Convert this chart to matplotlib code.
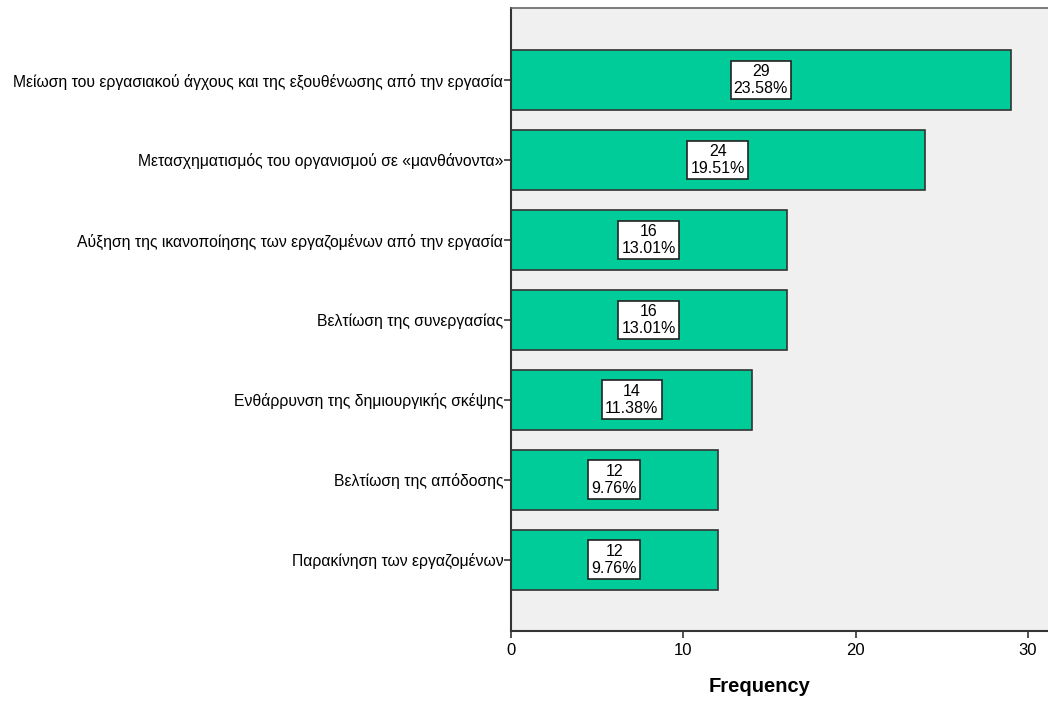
import matplotlib
matplotlib.use("Agg")
import matplotlib.pyplot as plt

plt.rcParams['font.family'] = ['Liberation Sans', 'DejaVu Sans']

categories = [
    "Μείωση του εργασιακού άγχους και της εξουθένωσης από την εργασία",
    "Μετασχηματισμός του οργανισμού σε «μανθάνοντα»",
    "Αύξηση της ικανοποίησης των εργαζομένων από την εργασία",
    "Βελτίωση της συνεργασίας",
    "Ενθάρρυνση της δημιουργικής σκέψης",
    "Βελτίωση της απόδοσης",
    "Παρακίνηση των εργαζομένων",
]
counts = [29, 24, 16, 16, 14, 12, 12]
xticks = [0, 10, 20, 30]

total = sum(counts)

fig = plt.figure(figsize=(10.48, 7.04), dpi=100)
ax = fig.add_axes([0.4876, 0.1037, 0.5124, 0.8849])
ax.set_facecolor('#F0F0F0')

ypos = list(range(len(categories)))
ax.barh(ypos, counts, height=0.75, color='#00CC99', edgecolor='#333333', linewidth=1.2)

# count + percent label boxes
for y, c in zip(ypos, counts):
    ax.text(c / 2, y, f"{c}\n{c / total * 100:.2f}%", ha='center', va='center',
            fontsize=11.5, linespacing=1.2,
            bbox=dict(boxstyle='square,pad=0.2', facecolor='white', edgecolor='#222222', linewidth=1.2))

ax.set_yticks(ypos)
ax.set_yticklabels(categories, fontsize=11.3)
ax.set_ylim(6.89, -0.9)
ax.set_xlim(0, 31.16)
ax.set_xticks(xticks)
ax.set_xticklabels([str(t) for t in xticks], fontsize=12)
ax.tick_params(axis='both', direction='out', length=5, width=1.2, color='#333333')
ax.tick_params(axis='y', pad=0.5)
ax.tick_params(axis='x', pad=4)

for side in ['left', 'bottom']:
    ax.spines[side].set_color('#333333')
    ax.spines[side].set_linewidth(1.5)
ax.spines['top'].set_color('#666666')
ax.spines['top'].set_linewidth(1.2)
ax.spines['right'].set_visible(False)

ax.set_xlabel("Frequency", fontsize=14.5, fontweight='bold', va='top')
ax.xaxis.set_label_coords(0.462, -0.074)

fig.savefig("out.png", dpi=100)
